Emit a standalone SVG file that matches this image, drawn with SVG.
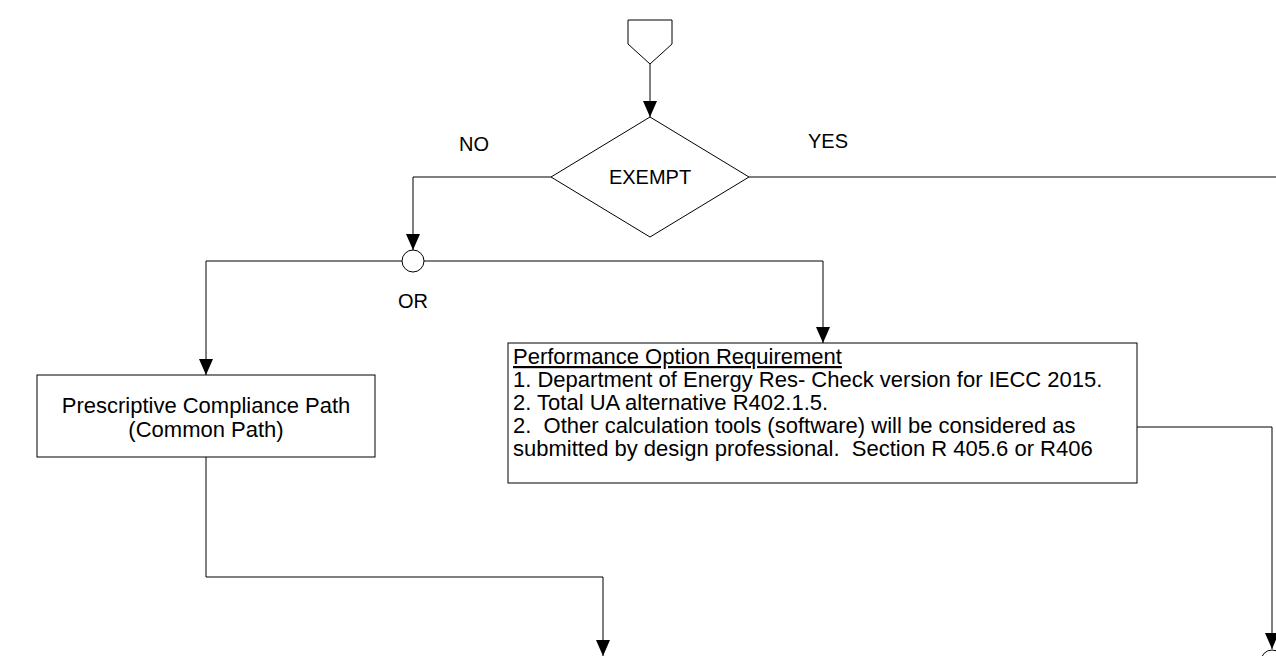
<svg xmlns="http://www.w3.org/2000/svg" width="1276" height="656" viewBox="0 0 1276 656">
<style>
.ln{fill:none;stroke:#000;stroke-width:1}
.sh{fill:#fff;stroke:#000;stroke-width:1}
text{font-family:"Liberation Sans",Arial,sans-serif;font-size:20px;fill:#000}
.c{text-anchor:middle}
.b{font-size:22px}
</style>
<defs>
<marker id="ah" viewBox="0 0 16 14" markerWidth="16" markerHeight="14" refX="16" refY="7" orient="auto" markerUnits="userSpaceOnUse"><path d="M0,0 L16,7 L0,14 z" fill="#000"/></marker>
</defs>
<rect width="1276" height="656" fill="#fff"/>
<g id="connectors">
<path class="ln" d="M650,64 V117" marker-end="url(#ah)"/>
<path class="ln" d="M551,177 H413 V250" marker-end="url(#ah)"/>
<path class="ln" d="M749,177 H1276"/>
<path class="ln" d="M402,261 H206 V375" marker-end="url(#ah)"/>
<path class="ln" d="M424,261 H823 V343" marker-end="url(#ah)"/>
<path class="ln" d="M206,457 V577 H603 V656" marker-end="url(#ah)"/>
<path class="ln" d="M1137,427 H1272 V649" marker-end="url(#ah)"/>
</g>
<g id="start"><path class="sh" d="M628,20 H672 V44 L650,64 L628,44 Z"/></g>
<g id="exempt">
<path class="sh" d="M650,117 L749,177 L650,237 L551,177 Z"/>
<text class="c" x="650" y="184">EXEMPT</text>
</g>
<g id="label-no"><text class="c" x="474" y="151">NO</text></g>
<g id="label-yes"><text class="c" x="828" y="148">YES</text></g>
<g id="or">
<circle class="sh" cx="413" cy="261" r="11"/>
<text class="c" x="413" y="308">OR</text>
</g>
<g id="prescriptive">
<rect class="sh" x="37" y="375" width="338" height="82"/>
<text class="c b" x="206" y="413">Prescriptive Compliance Path</text>
<text class="c b" x="206" y="437">(Common Path)</text>
</g>
<g id="performance">
<rect class="sh" x="508" y="343" width="629" height="140"/>
<text class="b" x="513" y="364" text-decoration="underline">Performance Option Requirement</text>
<text class="b" x="513" y="387">1. Department of Energy Res- Check version for IECC 2015.</text>
<text class="b" x="513" y="410">2. Total UA alternative R402.1.5.</text>
<text class="b" x="513" y="433" xml:space="preserve">2.  Other calculation tools (software) will be considered as</text>
<text class="b" x="513" y="456" xml:space="preserve">submitted by design professional.  Section R 405.6 or R406</text>
</g>
<g id="end-connector"><circle class="sh" cx="1272" cy="661" r="11"/></g>
</svg>
